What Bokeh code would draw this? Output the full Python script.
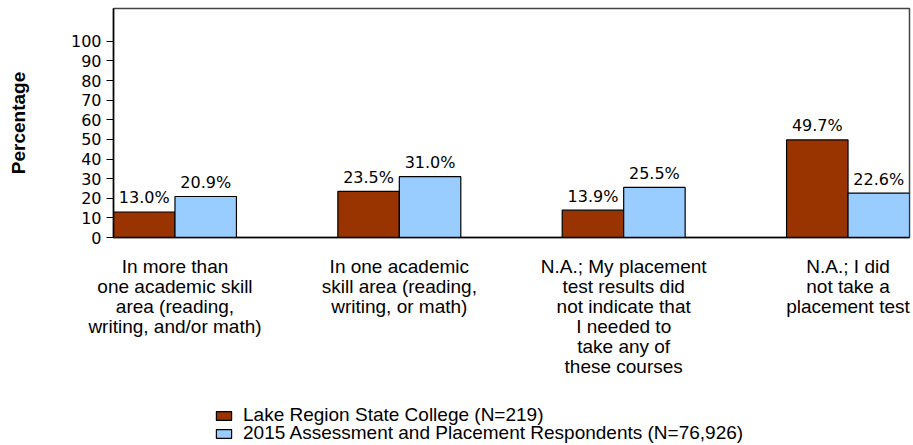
from bokeh.plotting import figure
from bokeh.layouts import column
from bokeh.models import Range1d, FixedTicker, Legend, LegendItem, ColumnDataSource
from bokeh.core.properties import value
from bokeh.embed import file_html
from bokeh.resources import INLINE

categories = [
    "In more than\none academic skill\narea (reading,\nwriting, and/or math)",
    "In one academic\nskill area (reading,\nwriting, or math)",
    "N.A.; My placement\ntest results did\nnot indicate that\nI needed to\ntake any of\nthese courses",
    "N.A.; I did\nnot take a\nplacement test",
]
series_names = ["Lake Region State College (N=219)",
                "2015 Assessment and Placement Respondents (N=76,926)"]
lake_values = [13.0, 23.5, 13.9, 49.7]
all_values = [20.9, 31.0, 25.5, 22.6]
y_ticks = [0, 10, 20, 30, 40, 50, 60, 70, 80, 90, 100]

colors = ["#993300", "#99CCFF"]
bw = 0.274
xs = list(range(len(categories)))

p = figure(width=913, height=390, output_backend="svg", toolbar_location=None,
           x_range=Range1d(-bw, len(categories) - 1 + bw), y_range=Range1d(0, 116.7),
           min_border_left=113, min_border_right=4, min_border_top=8, min_border_bottom=153)
p.outline_line_color = "#444444"
p.outline_line_width = 1.5
p.xgrid.visible = False
p.ygrid.visible = False

src1 = ColumnDataSource(dict(x=[x - bw / 2 for x in xs], top=lake_values,
                             lab=[f"{v:.1f}%" for v in lake_values]))
src2 = ColumnDataSource(dict(x=[x + bw / 2 for x in xs], top=all_values,
                             lab=[f"{v:.1f}%" for v in all_values]))
bar_kw = dict(width=bw, bottom=0, line_color="#000000", line_width=1.2)
p.vbar(x="x", top="top", source=src1, fill_color=colors[0], **bar_kw)
p.vbar(x="x", top="top", source=src2, fill_color=colors[1], **bar_kw)
for s in (src1, src2):
    p.text(x="x", y="top", text="lab", source=s, text_align="center",
           text_baseline="alphabetic", y_offset=-14, text_font_size="16px",
           text_font=value("DejaVu Sans"), text_color="black")

# y axis
ya = p.yaxis[0]
ya.ticker = FixedTicker(ticks=y_ticks)
ya.major_tick_out = 7
ya.major_tick_in = 0
ya.major_tick_line_width = 1.2
ya.minor_tick_line_color = None
ya.axis_line_color = "black"
ya.axis_line_width = 1.5
ya.major_label_text_font = "DejaVu Sans"
ya.major_label_text_font_size = "16px"
ya.major_label_text_color = "black"
ya.major_label_standoff = 5
ya.axis_label = "Percentage"
ya.axis_label_text_font = "Liberation Sans"
ya.axis_label_text_font_style = "bold"
ya.axis_label_text_font_size = "19px"
ya.axis_label_text_color = "black"
ya.axis_label_standoff = 39

# x axis with multi-line category labels
xa = p.xaxis[0]
xa.ticker = FixedTicker(ticks=xs)
xa.major_label_overrides = {i: c for i, c in zip(xs, categories)}
xa.major_tick_line_color = None
xa.minor_tick_line_color = None
xa.axis_line_color = "black"
xa.axis_line_width = 1.5
xa.major_label_text_font = "Liberation Sans"
xa.major_label_text_font_size = "19px"
xa.major_label_text_line_height = 0.954
xa.major_label_text_color = "black"
xa.major_label_standoff = 12

# legend in a strip below the chart
lg = figure(width=913, height=55, output_backend="svg", toolbar_location=None,
            x_range=Range1d(0, 1), y_range=Range1d(0, 1),
            min_border=0, x_axis_type=None, y_axis_type=None)
lg.outline_line_color = None
lg.xgrid.visible = False
lg.ygrid.visible = False
# legend-only renderers (no drawable bar of their own)
nan = float("nan")
d1 = lg.vbar(x=[nan], top=[nan], width=0.1, fill_color=colors[0], line_color="#000000", line_width=1.2)
d2 = lg.vbar(x=[nan], top=[nan], width=0.1, fill_color=colors[1], line_color="#000000", line_width=1.2)
leg_kw = dict(orientation="vertical", padding=0, margin=0, spacing=0,
              border_line_color=None, background_fill_alpha=0,
              glyph_width=19, glyph_height=11, label_standoff=10,
              label_text_font="Liberation Sans", label_text_font_size="19px",
              label_text_color="black")
leg1 = Legend(items=[LegendItem(label=series_names[0], renderers=[d1])],
              location=(101, 19), **leg_kw)
leg2 = Legend(items=[LegendItem(label=series_names[1], renderers=[d2])],
              location=(101, 1), **leg_kw)
lg.add_layout(leg1, "center")
lg.add_layout(leg2, "center")

layout = column(p, lg, spacing=0)
open("out.html", "w").write(file_html(layout, INLINE))
